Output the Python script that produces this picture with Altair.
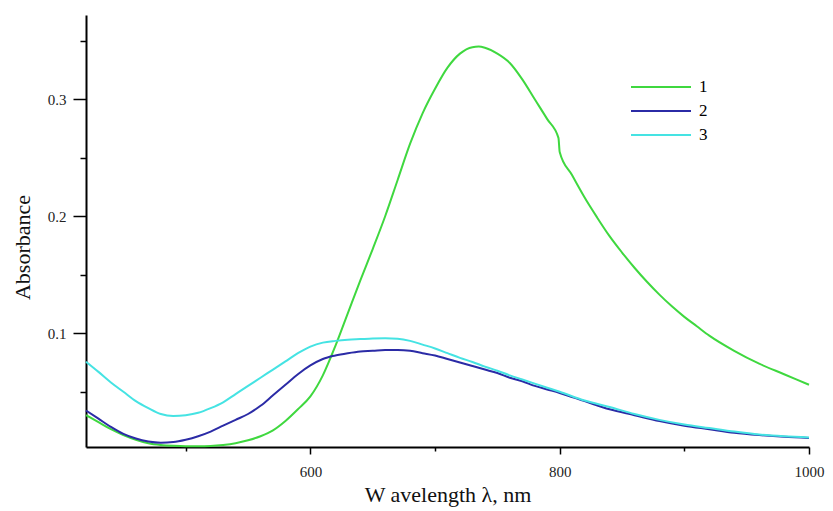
import altair as alt
import pandas as pd

# Series 1 (green)
wl_1 = [420, 430, 440, 450, 460, 470, 480, 490, 500, 510, 520, 530, 540, 550, 560, 570, 580, 590,
        600, 610, 620, 630, 640, 650, 660, 670, 680, 690, 700, 710, 720, 730, 735, 740, 750, 760,
        770, 780, 790, 799, 800, 810, 820, 830, 840, 850, 860, 870, 880, 890, 900, 910, 920, 940,
        960, 980, 1000]
abs_1 = [0.030, 0.024, 0.018, 0.013, 0.009, 0.006, 0.0045, 0.0038, 0.0035, 0.0035, 0.0037, 0.0045,
         0.006, 0.0085, 0.012, 0.017, 0.025, 0.035, 0.046, 0.064, 0.089, 0.117, 0.145, 0.172, 0.200,
         0.231, 0.262, 0.288, 0.309, 0.327, 0.339, 0.3445, 0.345, 0.344, 0.339, 0.331, 0.317, 0.300,
         0.283, 0.267, 0.255, 0.235, 0.216, 0.199, 0.183, 0.169, 0.156, 0.144, 0.133, 0.123, 0.114,
         0.106, 0.098, 0.085, 0.074, 0.065, 0.056]

# Series 2 (dark blue)
wl_2 = [420, 430, 440, 450, 460, 470, 480, 490, 500, 510, 520, 530, 540, 550, 560, 570, 580, 590,
        600, 610, 620, 630, 640, 650, 660, 670, 680, 690, 700, 710, 720, 730, 740, 750, 760, 770,
        780, 790, 800, 820, 840, 860, 880, 900, 920, 940, 960, 980, 1000]
abs_2 = [0.034, 0.027, 0.020, 0.014, 0.010, 0.0075, 0.0065, 0.007, 0.009, 0.012, 0.016, 0.021,
         0.026, 0.031, 0.038, 0.047, 0.056, 0.065, 0.0725, 0.078, 0.081, 0.083, 0.0845, 0.085, 0.0857,
         0.0857, 0.085, 0.083, 0.081, 0.078, 0.075, 0.072, 0.069, 0.066, 0.062, 0.059, 0.055, 0.052,
         0.049, 0.042, 0.035, 0.030, 0.025, 0.021, 0.018, 0.015, 0.013, 0.0115, 0.0105]

# Series 3 (cyan)
wl_3 = [420, 430, 440, 450, 460, 470, 480, 490, 500, 510, 520, 530, 540, 550, 560, 570, 580, 590,
        600, 610, 620, 630, 640, 650, 660, 670, 680, 690, 700, 710, 720, 730, 740, 750, 760, 770,
        780, 790, 800, 820, 840, 860, 880, 900, 920, 940, 960, 980, 1000]
abs_3 = [0.0757, 0.067, 0.058, 0.050, 0.042, 0.036, 0.031, 0.0293, 0.030, 0.032, 0.036, 0.041,
         0.048, 0.055, 0.062, 0.069, 0.076, 0.083, 0.0886, 0.092, 0.0935, 0.0945, 0.095, 0.0955,
         0.0957, 0.0953, 0.0935, 0.0903, 0.0870, 0.083, 0.079, 0.0755, 0.0715, 0.068, 0.064, 0.0605,
         0.057, 0.0535, 0.050, 0.0425, 0.037, 0.031, 0.026, 0.022, 0.019, 0.016, 0.0135, 0.012, 0.011]

series_names = ["1", "2", "3"]
series_colors = ["#3fd83f", "#2b2ba6", "#45e3e3"]

x_ticks = [500, 600, 700, 800, 900, 1000]
y_ticks = [0.05, 0.1, 0.15, 0.2, 0.25, 0.3, 0.35]

rows = []
for name, wls, vals in zip(series_names, [wl_1, wl_2, wl_3], [abs_1, abs_2, abs_3]):
    for i, (w, v) in enumerate(zip(wls, vals)):
        rows.append({"series": name, "wl": w, "A": v, "order": i})
df = pd.DataFrame(rows)

FONT = "Liberation Serif"

x_axis = alt.Axis(
    values=x_ticks,
    title="W avelength λ, nm",
    titleFont=FONT, titleFontSize=22, titleFontWeight="normal", titleColor="#111",
    titleBaseline="alphabetic", titleY=54,
    labelFont=FONT, labelFontSize=15, labelColor="#222", labelPadding=10, labelFlush=False,
    labelExpr="datum.value % 200 == 0 ? format(datum.value, 'd') : ''",
    tickSize={"condition": {"test": "datum.value % 200 == 0", "value": 7}, "value": 4},
    tickColor="black", tickWidth=1.5,
    domainColor="black", domainWidth=2,
    grid=False, labelOverlap=False,
)

y_axis = alt.Axis(
    values=y_ticks,
    title="Absorbance",
    titleFont=FONT, titleFontSize=22, titleFontWeight="normal", titleColor="#111",
    titleAngle=-90, titleX=-64, titleY=232, titleAlign="center", titleBaseline="middle",
    labelFont=FONT, labelFontSize=15, labelColor="#222", labelPadding=7,
    labelExpr="abs(datum.value*10 - round(datum.value*10)) < 0.001 ? format(datum.value, '.1f') : ''",
    tickSize={"condition": {"test": "abs(datum.value*10 - round(datum.value*10)) < 0.001", "value": 13}, "value": 6},
    tickColor="black", tickWidth=1.5,
    domainColor="black", domainWidth=2,
    grid=False, labelOverlap=False,
)

chart = alt.Chart(df).mark_line(strokeWidth=2, interpolate="monotone").encode(
    x=alt.X("wl:Q", scale=alt.Scale(domain=[420, 1000], nice=False, zero=False), axis=x_axis),
    y=alt.Y("A:Q", scale=alt.Scale(domain=[0.0028, 0.372], nice=False, zero=False), axis=y_axis),
    color=alt.Color(
        "series:N",
        scale=alt.Scale(domain=series_names, range=series_colors),
        legend=alt.Legend(
            title=None, orient="none", legendX=564, legendY=61,
            symbolType="M-3,0H3", symbolSize=400, symbolStrokeWidth=2,
            symbolFillColor="transparent",
            rowPadding=5, padding=0,
            labelFont=FONT, labelFontSize=17, labelColor="black", labelOffset=27,
        ),
    ),
    order="order:Q",
).properties(
    width=723, height=432,
    padding={"left": 78, "top": 7, "right": 16, "bottom": 64},
    autosize=alt.AutoSizeParams(type="none"),
    background="white",
).configure_view(stroke=None)

chart.save("out.html", embed_options={"renderer": "svg", "actions": False})
